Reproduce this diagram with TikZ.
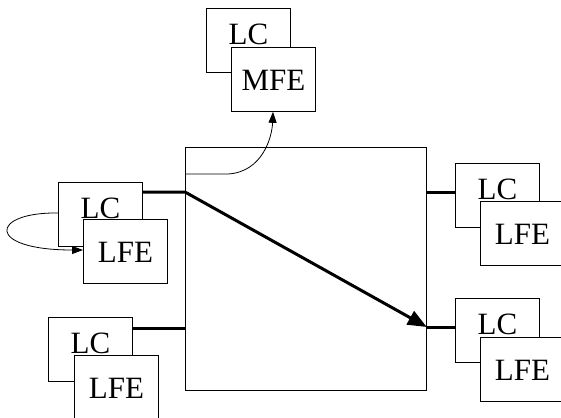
\documentclass[tikz,border=0pt]{standalone}
\usepackage{fontspec}
\setmainfont{Liberation Serif}
\usetikzlibrary{arrows.meta}
\begin{document}
\begin{tikzpicture}[x=1pt,y=-1pt,
  box/.style={draw,line width=0.8pt,fill=white,minimum width=84pt,minimum height=64pt,inner sep=0pt,anchor=north west,font=\fontsize{31}{32}\selectfont},
  lcbox/.style={box,text height=36pt,text depth=28pt},
  febox/.style={box,text height=43pt,text depth=21pt},
  thickline/.style={line width=3pt},
  thinline/.style={line width=0.8pt}]
\useasboundingbox (0,0) rectangle (561,417);
% switch fabric
\node[draw,thinline,minimum width=241pt,minimum height=243pt,inner sep=0pt,anchor=north west] (sw) at (185,147) {};
% top group
\node[lcbox] (lcT) at (206,8) {LC};
\node[febox] (mfe) at (231,47) {MFE};
% left middle group
\node[lcbox] (lcL) at (58,182) {LC};
\node[febox] (lfeL) at (83,219) {LFE};
% bottom left group
\node[lcbox] (lcB) at (48,317) {LC};
\node[febox] (lfeB) at (74,355) {LFE};
% right groups
\node[lcbox] (lcR1) at (455,163) {LC};
\node[febox] (lfeR1) at (480,201) {LFE};
\node[lcbox] (lcR2) at (455,298) {LC};
\node[febox] (lfeR2) at (480,337) {LFE};
% ports
\coordinate (in1) at (sw.west |- 0,192);
\coordinate (in2) at (sw.west |- 0,328);
\coordinate (out1) at (sw.east |- 0,192);
\coordinate (out2) at (sw.east |- 0,327);
\coordinate (mfeport) at (sw.west |- 0,174);
% connectors
\draw[thickline,-{Triangle[length=19pt,width=15pt]}] (lcL.east |- in1) -- (in1) -- (out2);
\draw[thickline] (out2) -- (lcR2.west |- out2);
\draw[thickline] (lcB.east |- in2) -- (in2);
\draw[thickline] (out1) -- (lcR1.west |- out1);
\draw[thinline,-{Triangle[length=11pt,width=8pt]}] (mfeport) -- ++(43,0) .. controls (262,172) and (272,138) .. (mfe.south -| 273,0);
\draw[thinline,-{Triangle[length=11pt,width=8pt]}] (lcL.west |- 0,213) .. controls (-10,212) and (-15,250) .. (lfeL.west |- 0,250);
\end{tikzpicture}
\end{document}
